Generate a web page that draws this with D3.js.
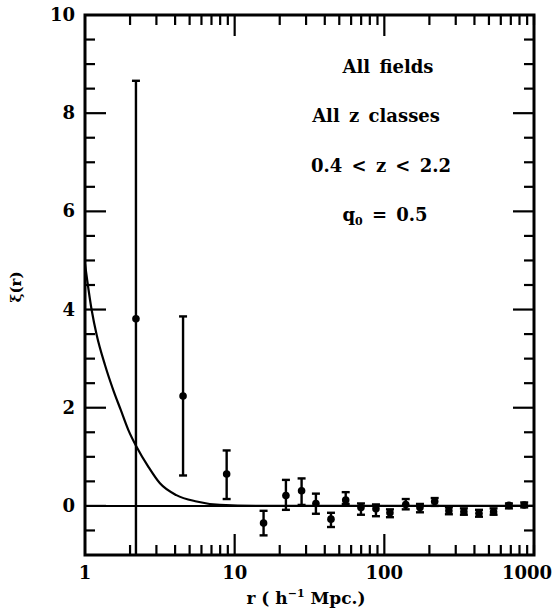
<!DOCTYPE html>
<html>
<head>
<meta charset="utf-8">
<title>xi(r)</title>
<style>
  body { margin: 0; background: #fff; }
  svg text { font-family: 'DejaVu Serif', serif; font-weight: bold; fill: #000; }
</style>
<script src="https://d3js.org/d3.v7.min.js"></script>
</head>
<body>
<svg id="chart" width="555" height="608"></svg>
<script>
// measured points (r in h^-1 Mpc, xi and error bar ends)
var rVals  = [2.19, 4.52, 8.84, 15.6, 22.0, 28.0, 34.9, 44.0, 55.2, 69.8, 87.9, 109, 139, 173, 217, 270, 340, 429, 537, 680, 860];
var xiVals = [3.81, 2.24, 0.65, -0.35, 0.21, 0.31, 0.05, -0.27, 0.12, -0.03, -0.06, -0.14, 0.03, -0.03, 0.09, -0.10, -0.12, -0.15, -0.12, 0.01, 0.02];
var xiHi   = [8.66, 3.86, 1.13, -0.10, 0.53, 0.56, 0.25, -0.14, 0.28, 0.05, 0.03, -0.07, 0.14, 0.04, 0.16, -0.03, -0.05, -0.08, -0.05, 0.05, 0.07];
var xiLo   = [-1.5, 0.62, 0.14, -0.60, -0.08, 0.02, -0.16, -0.43, 0.04, -0.18, -0.21, -0.23, -0.07, -0.13, 0.00, -0.17, -0.18, -0.22, -0.18, -0.05, -0.03];

// model curve
var fitR  = [1.0, 1.108, 1.197, 1.36, 1.545, 1.731, 1.946, 2.214, 2.646, 3.167, 4.078, 5.569, 7.96, 14.7, 1000];
var fitXi = [4.93, 3.99, 3.48, 2.87, 2.36, 1.96, 1.55, 1.20, 0.80, 0.46, 0.22, 0.09, 0.02, 0.0, 0.0];

var xLabels = [1, 10, 100, 1000];
var yLabels = [0, 2, 4, 6, 8, 10];
var notes = ["All fields", "All z classes", "0.4 < z < 2.2"];

var L = 85, R = 534, T = 15, B = 555;
var svg = d3.select("#chart");

var x = d3.scaleLog().domain([1, 1000]).range([L, R]);
var y = d3.scaleLinear().domain([-1, 10]).range([B, T]);

svg.append("clipPath").attr("id", "clip")
  .append("rect").attr("x", L).attr("y", T).attr("width", R - L).attr("height", B - T);

var plot = svg.append("g").attr("clip-path", "url(#clip)");

// zero line
plot.append("line")
  .attr("x1", L).attr("x2", R).attr("y1", y(0)).attr("y2", y(0))
  .attr("stroke", "#000").attr("stroke-width", 2);

// model curve
var fit = fitR.map(function (r, i) { return [r, fitXi[i]]; });
plot.append("path")
  .datum(fit)
  .attr("fill", "none").attr("stroke", "#000").attr("stroke-width", 2.2)
  .attr("d", d3.line().x(function (d) { return x(d[0]); }).y(function (d) { return y(d[1]); })
    .curve(d3.curveMonotoneX));

// error bars
var pts = rVals.map(function (r, i) { return { r: r, v: xiVals[i], hi: xiHi[i], lo: xiLo[i] }; });
var eb = plot.selectAll("g.eb").data(pts).enter().append("g").attr("class", "eb");
eb.append("line")
  .attr("x1", function (d) { return x(d.r); }).attr("x2", function (d) { return x(d.r); })
  .attr("y1", function (d) { return y(d.hi); }).attr("y2", function (d) { return y(d.lo); })
  .attr("stroke", "#000").attr("stroke-width", 2.4);
["hi", "lo"].forEach(function (k) {
  eb.append("line")
    .attr("x1", function (d) { return x(d.r) - 4; }).attr("x2", function (d) { return x(d.r) + 4; })
    .attr("y1", function (d) { return y(d[k]); }).attr("y2", function (d) { return y(d[k]); })
    .attr("stroke", "#000").attr("stroke-width", 2.4);
});
eb.append("circle")
  .attr("cx", function (d) { return x(d.r); }).attr("cy", function (d) { return y(d.v); })
  .attr("r", 3.8).attr("fill", "#000");

// ticks
var ticks = svg.append("g").attr("stroke", "#000").attr("stroke-width", 2.2);
var xt = [];
[1, 10, 100].forEach(function (dec) {
  for (var k = 2; k <= 10; k++) xt.push({ v: dec * k, major: k === 10 && dec * k < 1000 });
});
xt.forEach(function (t) {
  var len = t.major ? 21 : 10, px = x(t.v);
  ticks.append("line").attr("x1", px).attr("x2", px).attr("y1", B).attr("y2", B - len);
  ticks.append("line").attr("x1", px).attr("x2", px).attr("y1", T).attr("y2", T + len);
});
d3.range(-0.5, 10, 0.5).forEach(function (v) {
  var len = (v % 2 === 0) ? 21 : 10, py = y(v);
  ticks.append("line").attr("x1", L).attr("x2", L + len).attr("y1", py).attr("y2", py);
  ticks.append("line").attr("x1", R).attr("x2", R - len).attr("y1", py).attr("y2", py);
});

// frame
svg.append("rect").attr("x", L).attr("y", T).attr("width", R - L).attr("height", B - T)
  .attr("fill", "none").attr("stroke", "#000").attr("stroke-width", 3);

// tick labels
svg.selectAll("text.yl").data(yLabels).enter().append("text")
  .attr("x", 75).attr("y", function (d) { return y(d) + 6; })
  .attr("text-anchor", "end").attr("font-size", 18).text(function (d) { return d; });
svg.selectAll("text.xl").data(xLabels).enter().append("text")
  .attr("x", function (d) { return d === 1000 ? x(d) - 7 : x(d); })
  .attr("y", 579).attr("text-anchor", "middle").attr("font-size", 18)
  .text(function (d) { return d; });

// axis titles
var xt2 = svg.append("text").attr("x", 306).attr("y", 604).attr("text-anchor", "middle").attr("font-size", 17);
xt2.append("tspan").text("r ( h");
xt2.append("tspan").attr("dy", -7).attr("font-size", 11).text("\u22121");
xt2.append("tspan").attr("dy", 7).text(" Mpc.)");

svg.append("text").attr("transform", "translate(21,287) rotate(-90)")
  .attr("text-anchor", "middle").attr("font-size", 15).text("\u03BE(r)");

// annotations
var noteX = [388, 376, 381];
notes.forEach(function (s, i) {
  svg.append("text").attr("x", noteX[i]).attr("y", 73 + i * 49.3)
    .attr("text-anchor", "middle").attr("font-size", 18).attr("word-spacing", 3)
    .text(s);
});
var q = svg.append("text").attr("x", 385).attr("y", 221).attr("text-anchor", "middle")
  .attr("font-size", 18).attr("word-spacing", 3);
q.append("tspan").text("q");
q.append("tspan").attr("dy", 4).attr("font-size", 11).text("0");
q.append("tspan").attr("dy", -4).text(" = 0.5");
</script>
</body>
</html>
